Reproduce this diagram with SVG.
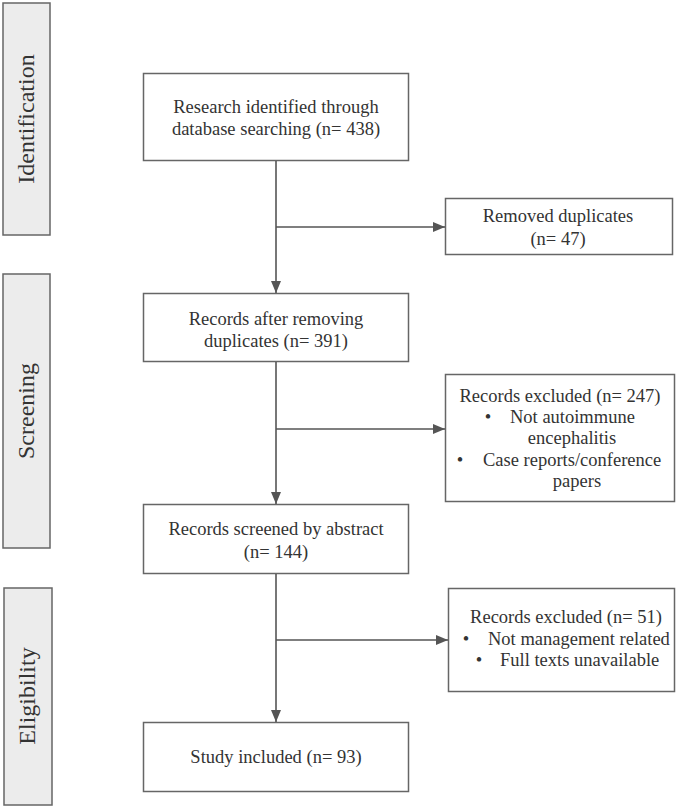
<svg xmlns="http://www.w3.org/2000/svg" width="685" height="808" viewBox="0 0 685 808">
<style>
.bg{fill:#ffffff}
.side rect{fill:#ececec;stroke:#666;stroke-width:1.5}
.side text{font-family:"Liberation Serif",serif;font-size:24px;fill:#333;text-anchor:middle}
.node rect{fill:#fff;stroke:#666;stroke-width:1.5}
.node text{font-family:"Liberation Serif",serif;font-size:18.5px;fill:#333;text-anchor:middle}
.node text.l{text-anchor:start}
.conn line{stroke:#555;stroke-width:1.6}
</style>
<defs>
<marker id="ah" viewBox="0 0 12 10" refX="12" refY="5" markerWidth="12" markerHeight="10" markerUnits="userSpaceOnUse" orient="auto">
<path d="M0,0 L12,5 L0,10 z" fill="#555"/>
</marker>
</defs>
<rect class="bg" width="685" height="808"/>
<g id="side-identification" class="side"><rect x="3" y="3" width="47" height="232"/><text transform="translate(34,119) rotate(-90)">Identification</text></g>
<g id="side-screening" class="side"><rect x="3" y="274" width="47" height="274"/><text transform="translate(34,411) rotate(-90)">Screening</text></g>
<g id="side-eligibility" class="side"><rect x="4" y="588" width="48" height="217"/><text transform="translate(35,696) rotate(-90)">Eligibility</text></g>

<g id="n1" class="node"><rect x="143.5" y="73.5" width="265" height="87"/><text x="276" y="113">Research identified through</text><text x="276" y="135">database searching (n= 438)</text></g>
<g id="n2" class="node"><rect x="445.5" y="198.5" width="227" height="56"/><text x="558" y="222">Removed duplicates</text><text x="558" y="245">(n= 47)</text></g>
<g id="n3" class="node"><rect x="143.5" y="293.5" width="265" height="68"/><text x="276" y="325">Records after removing</text><text x="276" y="347">duplicates (n= 391)</text></g>
<g id="n4" class="node"><rect x="445.5" y="374.5" width="229" height="127"/><text x="560" y="402">Records excluded (n= 247)</text><text x="488" y="423">•</text><text class="l" x="510" y="423">Not autoimmune</text><text x="572" y="444">encephalitis</text><text x="460" y="466">•</text><text class="l" x="483" y="466">Case reports/conference</text><text x="577" y="487">papers</text></g>
<g id="n5" class="node"><rect x="143.5" y="504.5" width="265" height="69"/><text x="276" y="535">Records screened by abstract</text><text x="276" y="558">(n= 144)</text></g>
<g id="n6" class="node"><rect x="448.5" y="588.5" width="226" height="103"/><text x="566" y="623">Records excluded  (n= 51)</text><text x="466" y="645">•</text><text class="l" x="488" y="645">Not management related</text><text x="479" y="666">•</text><text class="l" x="500" y="666">Full texts unavailable</text></g>
<g id="n7" class="node"><rect x="143.5" y="722.5" width="265" height="69"/><text x="276" y="763">Study included (n= 93)</text></g>

<g id="connectors" class="conn">
<line x1="276" y1="161" x2="276" y2="293" marker-end="url(#ah)"/>
<line x1="276" y1="227" x2="445" y2="227" marker-end="url(#ah)"/>
<line x1="276" y1="362" x2="276" y2="504" marker-end="url(#ah)"/>
<line x1="276" y1="429" x2="445" y2="429" marker-end="url(#ah)"/>
<line x1="276" y1="574" x2="276" y2="722" marker-end="url(#ah)"/>
<line x1="276" y1="640" x2="448" y2="640" marker-end="url(#ah)"/>
</g>
</svg>
